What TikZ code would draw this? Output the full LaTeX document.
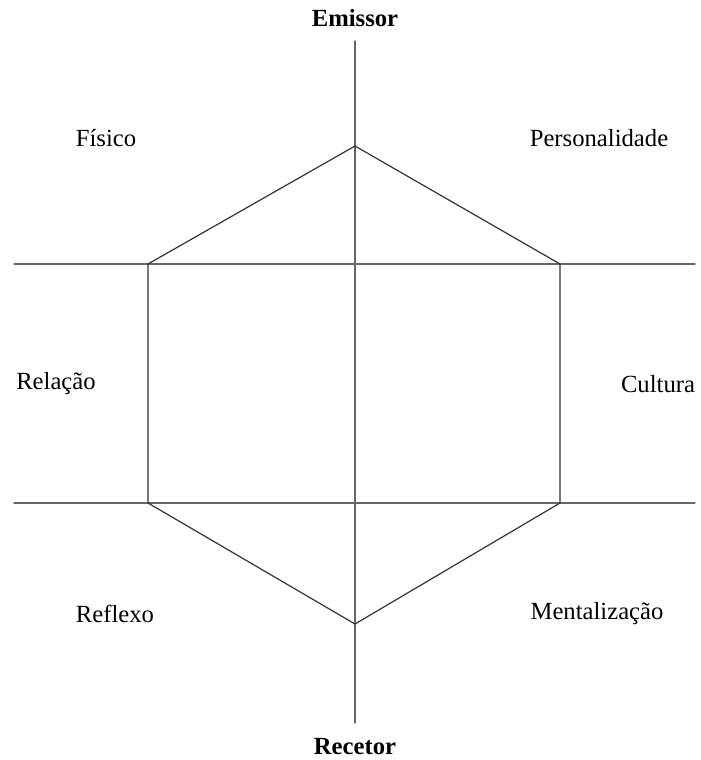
\documentclass[tikz,border=0pt]{standalone}
\usepackage{fontspec}
\setmainfont{Liberation Serif}

\begin{document}
\begin{tikzpicture}[x=0.75pt, y=-0.75pt, line width=0.9pt, line cap=round, line join=round,
    axis/.style={draw=black!60},
    hexline/.style={draw=black!80},
    lbl/.style={font=\fontsize{18.5}{20}\selectfont, inner sep=0pt},
    pole/.style={lbl, font=\fontsize{18.5}{20}\selectfont\bfseries}]
  \useasboundingbox (0,0) rectangle (700,760);
  % Axes.
  \coordinate (ntop) at (355,41);
  \coordinate (nbot) at (355,723);
  \coordinate (hl1) at (14,264);
  \coordinate (hr1) at (695,264);
  \coordinate (hl2) at (14,503);
  \coordinate (hr2) at (695,503);
  \draw[axis] (ntop) -- (nbot);
  \draw[axis] (hl1) -- (hr1);
  \draw[axis] (hl2) -- (hr2);
  % Hexagon corners.
  \coordinate (vt) at (355,146);
  \coordinate (vur) at (560,264);
  \coordinate (vlr) at (560,503);
  \coordinate (vb) at (355,624);
  \coordinate (vll) at (148,503);
  \coordinate (vul) at (148,264);
  \draw[hexline] (vt) -- (vur) -- (vlr) -- (vb) -- (vll) -- (vul) -- cycle;
  % Labels.
  \node[pole] (emissor) at (355,18) {Emissor};
  \node[pole] (recetor) at (355,747) {Recetor};
  \node[lbl] (fisico) at (106,138) {Físico};
  \node[lbl] (personalidade) at (599,138) {Personalidade};
  \node[lbl] (relacao) at (56,384) {Relação};
  \node[lbl] (cultura) at (658,384) {Cultura};
  \node[lbl] (reflexo) at (115,614) {Reflexo};
  \node[lbl] (mentalizacao) at (597,614) {Mentalização};
\end{tikzpicture}
\end{document}
